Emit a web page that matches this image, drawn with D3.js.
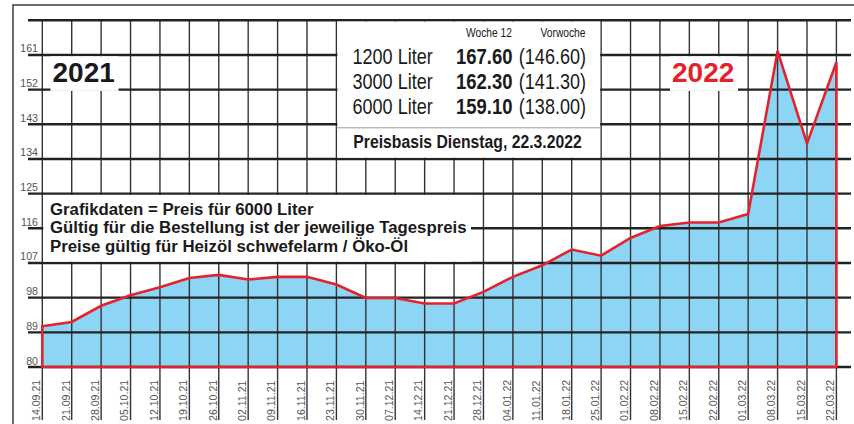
<!DOCTYPE html>
<html>
<head>
<meta charset="utf-8">
<script src="https://cdn.jsdelivr.net/npm/d3@7"></script>
<style>
  body { margin: 0; background: #fff; }
  svg { display: block; }
  text { font-family: "Liberation Sans", Arial, Helvetica, sans-serif; }
</style>
</head>
<body>
<div id="chart"></div>
<script>
// weekly dates and price for 6000 Liter
var dates = ['14.09.21','21.09.21','28.09.21','05.10.21','12.10.21','19.10.21','26.10.21',
  '02.11.21','09.11.21','16.11.21','23.11.21','30.11.21','07.12.21','14.12.21','21.12.21',
  '28.12.21','04.01.22','11.01.22','18.01.22','25.01.22','01.02.22','08.02.22','15.02.22',
  '22.02.22','01.03.22','08.03.22','15.03.22','22.03.22'];
var prices = [90.6, 91.7, 95.9, 98.6, 100.7, 103.1, 103.9,
  102.7, 103.4, 103.4, 101.4, 97.9, 97.9, 96.5, 96.5,
  99.5, 103.4, 106.4, 110.5, 108.9, 113.5, 116.6, 117.5,
  117.5, 119.7, 162.0, 138.0, 159.1];
var yTicks = [80, 89, 98, 107, 116, 125, 134, 143, 152, 161, 170];

var infoRows = ['1200 Liter', '3000 Liter', '6000 Liter'];
var infoNow = ['167.60', '162.30', '159.10'];
var infoPrev = ['(146.60)', '(141.30)', '(138.00)'];
var notes = ['Grafikdaten = Preis für 6000 Liter',
  'Gültig für die Bestellung ist der jeweilige Tagespreis',
  'Preise gültig für Heizöl schwefelarm / Öko-Öl'];

var W = 854, H = 424;
var RED = '#e4222b', BLUE = '#8dd5f5';
var SQUEEZE = 0.82; // no condensed font installed, so squeeze horizontally

var svg = d3.select('#chart').append('svg')
  .attr('width', W)
  .attr('height', H);

var x = d3.scalePoint().domain(dates).range([42.3, 836.4]);
var y = d3.scaleLinear().domain([80, 170]).range([367, 20.3]);

function narrowText(g, tx, ty, str, size, anchor, bold) {
  return g.append('text')
    .attr('transform', 'translate(' + tx + ',' + ty + ') scale(' + SQUEEZE + ',1)')
    .attr('text-anchor', anchor || 'start')
    .attr('font-size', size)
    .attr('font-weight', bold ? 'bold' : 'normal')
    .text(str);
}

// outer frame (top + left)
svg.append('path')
  .attr('d', 'M13,424V5H854')
  .attr('fill', 'none')
  .attr('stroke', '#3a3a3a')
  .attr('stroke-width', 1.5);

// blue area
var area = d3.area()
  .x(function(d, i) { return x(dates[i]); })
  .y0(y(80))
  .y1(function(d) { return y(d); });

svg.append('path')
  .datum(prices)
  .attr('d', area)
  .attr('fill', BLUE);

// vertical grid
svg.append('g').selectAll('line')
  .data(dates)
  .join('line')
  .attr('x1', function(d) { return x(d); })
  .attr('x2', function(d) { return x(d); })
  .attr('y1', y(170))
  .attr('y2', 420)
  .attr('stroke', '#333')
  .attr('stroke-width', 1.4);

// horizontal grid
svg.append('g').selectAll('line')
  .data(yTicks)
  .join('line')
  .attr('x1', 28)
  .attr('x2', 851)
  .attr('y1', function(d) { return y(d); })
  .attr('y2', function(d) { return y(d); })
  .attr('stroke', '#222')
  .attr('stroke-width', 2.4);

// y labels
svg.append('g').selectAll('text')
  .data(yTicks.filter(function(d) { return d < 170; }))
  .join('text')
  .attr('x', 38)
  .attr('y', function(d) { return y(d) - 2.5; })
  .attr('text-anchor', 'end')
  .attr('font-size', 10.6)
  .attr('fill', '#555')
  .text(function(d) { return d; });

// x labels, rotated
svg.append('g').selectAll('text')
  .data(dates)
  .join('text')
  .attr('transform', function(d) { return 'translate(' + (x(d) - 2.2) + ',421) rotate(-90)'; })
  .attr('font-size', 10.6)
  .attr('fill', '#555')
  .text(function(d) { return d; });

// red outline around the area
var outline = d3.line()
  .x(function(d) { return d[0]; })
  .y(function(d) { return d[1]; });
var pts = prices.map(function(p, i) { return [x(dates[i]), y(p)]; });
pts.push([x(dates[dates.length - 1]), y(80)]);
pts.push([x(dates[0]), y(80)]);
svg.append('path')
  .attr('d', outline(pts) + 'Z')
  .attr('fill', 'none')
  .attr('stroke', RED)
  .attr('stroke-width', 2.6)
  .attr('stroke-linejoin', 'miter');

// year labels
function yearLabel(x0, x1, label, color) {
  svg.append('rect')
    .attr('x', x0).attr('y', 56.3)
    .attr('width', x1 - x0).attr('height', 34.6)
    .attr('fill', '#fff');
  svg.append('text')
    .attr('x', x0 + 2).attr('y', 82.3)
    .attr('font-size', 28)
    .attr('font-weight', 'bold')
    .attr('fill', color)
    .text(label);
}
yearLabel(50.5, 118.5, '2021', '#1a1a1a');
yearLabel(670, 738, '2022', RED);

// info box
var bx0 = x(dates[10]), bx1 = x(dates[19]);
svg.append('rect')
  .attr('x', bx0 + 1).attr('y', y(170) + 1.3)
  .attr('width', bx1 - bx0 - 2).attr('height', y(134) - y(170) - 2.6)
  .attr('fill', '#fff');
svg.append('line')
  .attr('x1', bx0).attr('x2', bx1)
  .attr('y1', 127.8).attr('y2', 127.8)
  .attr('stroke', '#999')
  .attr('stroke-width', 1);

var info = svg.append('g').attr('fill', '#1a1a1a');
narrowText(info, 512, 36.5, 'Woche 12', 12.5, 'end');
narrowText(info, 585.5, 36.5, 'Vorwoche', 12.5, 'end');

infoRows.forEach(function(r, i) {
  var by = 63.5 + i * 25;
  narrowText(info, 352.5, by, r, 22, 'start');
  narrowText(info, 512.5, by, infoNow[i], 22.5, 'end', true);
  narrowText(info, 586, by, infoPrev[i], 22, 'end');
});
narrowText(info, 467.5, 148, 'Preisbasis Dienstag, 22.3.2022', 19.2, 'middle', true);

// notes box
svg.append('rect')
  .attr('x', x(dates[0]) + 1).attr('y', y(125) + 1.3)
  .attr('width', 470 - x(dates[0])).attr('height', y(107) - y(125) - 2.6)
  .attr('fill', '#fff');

svg.append('g').selectAll('text')
  .data(notes)
  .join('text')
  .attr('x', 50)
  .attr('y', function(d, i) { return 215 + i * 18.4; })
  .attr('font-size', 16.8)
  .attr('font-weight', 'bold')
  .attr('fill', '#1a1a1a')
  .text(function(d) { return d; });
</script>
</body>
</html>
